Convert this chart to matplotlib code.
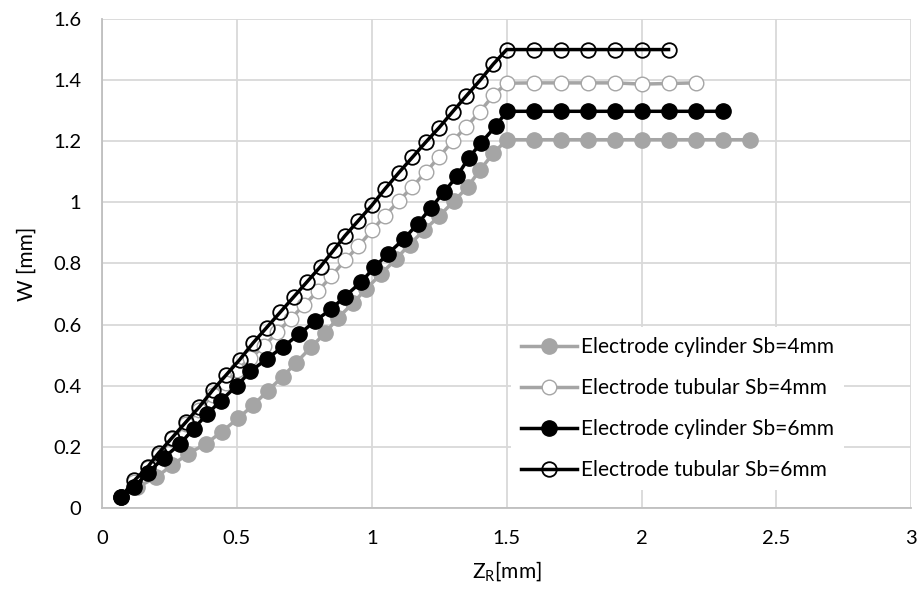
import matplotlib.pyplot as plt
from matplotlib.ticker import FuncFormatter

plt.rcParams['font.family'] = ['Lato', 'DejaVu Sans']

# Electrode cylinder, Sb = 4 mm
cyl4_x = [0.07, 0.13, 0.2, 0.26, 0.32, 0.385, 0.445, 0.505, 0.56, 0.615, 0.67, 0.72,
          0.775, 0.825, 0.875, 0.93, 0.98, 1.035, 1.09, 1.14, 1.195, 1.25, 1.305, 1.355,
          1.4, 1.45, 1.5, 1.6, 1.7, 1.8, 1.9, 2.0, 2.1, 2.2, 2.3, 2.4]
cyl4_w = [0.035, 0.068, 0.1, 0.14, 0.178, 0.21, 0.25, 0.294, 0.336, 0.384, 0.43, 0.476,
          0.526, 0.571, 0.622, 0.67, 0.718, 0.766, 0.815, 0.862, 0.91, 0.955, 1.005, 1.05,
          1.105, 1.16, 1.205, 1.205, 1.205, 1.205, 1.205, 1.205, 1.205, 1.205, 1.205, 1.205]

# Electrode tubular, Sb = 4 mm
tub4_x = [0.07, 0.12, 0.17, 0.21, 0.26, 0.31, 0.36, 0.41, 0.46, 0.5, 0.55, 0.6, 0.65,
          0.7, 0.75, 0.8, 0.85, 0.9, 0.95, 1.0, 1.05, 1.1, 1.15, 1.2, 1.25, 1.3, 1.35,
          1.4, 1.45, 1.5, 1.6, 1.7, 1.8, 1.9, 2.0, 2.1, 2.2]
tub4_w = [0.035, 0.085, 0.13, 0.175, 0.225, 0.275, 0.32, 0.37, 0.41, 0.45, 0.49, 0.53,
          0.575, 0.62, 0.665, 0.709, 0.758, 0.81, 0.856, 0.908, 0.957, 1.005, 1.05, 1.099,
          1.149, 1.201, 1.247, 1.296, 1.35, 1.39, 1.391, 1.391, 1.391, 1.391, 1.387,
          1.389, 1.391]

# Electrode cylinder, Sb = 6 mm
cyl6_x = [0.07, 0.12, 0.17, 0.23, 0.29, 0.34, 0.39, 0.44, 0.5, 0.55, 0.61, 0.67, 0.73,
          0.79, 0.85, 0.9, 0.96, 1.01, 1.06, 1.12, 1.17, 1.22, 1.267, 1.315, 1.36, 1.405,
          1.46, 1.5, 1.6, 1.7, 1.8, 1.9, 2.0, 2.1, 2.2, 2.3]
cyl6_w = [0.035, 0.07, 0.115, 0.165, 0.21, 0.26, 0.307, 0.351, 0.4, 0.447, 0.487, 0.527,
          0.568, 0.612, 0.651, 0.692, 0.739, 0.788, 0.832, 0.881, 0.93, 0.983, 1.033,
          1.085, 1.146, 1.195, 1.25, 1.298, 1.298, 1.298, 1.298, 1.298, 1.298, 1.298,
          1.298, 1.298]

# Electrode tubular, Sb = 6 mm
tub6_x = [0.07, 0.12, 0.17, 0.21, 0.26, 0.31, 0.36, 0.41, 0.46, 0.51, 0.56, 0.61, 0.66,
          0.71, 0.76, 0.81, 0.86, 0.9, 0.95, 1.0, 1.05, 1.1, 1.15, 1.2, 1.25, 1.3, 1.35,
          1.4, 1.45, 1.5, 1.6, 1.7, 1.8, 1.9, 2.0, 2.1]
tub6_w = [0.035, 0.09, 0.135, 0.18, 0.23, 0.28, 0.33, 0.385, 0.435, 0.485, 0.54, 0.59,
          0.64, 0.69, 0.74, 0.79, 0.845, 0.89, 0.94, 0.99, 1.045, 1.097, 1.147, 1.197,
          1.245, 1.297, 1.348, 1.398, 1.452, 1.5, 1.5, 1.5, 1.5, 1.5, 1.5, 1.5]

labels = ['Electrode cylinder Sb=4mm', 'Electrode tubular Sb=4mm',
          'Electrode cylinder Sb=6mm', 'Electrode tubular Sb=6mm']

gray = '#A5A5A5'
fig = plt.figure(figsize=(9.22, 5.94), dpi=100)
ax = fig.add_axes([0.1106, 0.1448, 0.8779, 0.8232])

ax.plot(cyl4_x, cyl4_w, color=gray, lw=2.5, marker='o', ms=11,
        mfc=gray, mec=gray, label=labels[0], zorder=3)
ax.plot(tub4_x, tub4_w, color=gray, lw=2.5, marker='o', ms=10.5,
        mfc='white', mec=gray, mew=1.0, label=labels[1], zorder=4)
ax.plot(cyl6_x, cyl6_w, color='black', lw=2.5, marker='o', ms=11,
        mfc='black', mec='black', label=labels[2], zorder=5)
ax.plot(tub6_x, tub6_w, color='black', lw=2.5, marker='o', ms=10.5,
        mfc='none', mec='black', mew=1.3, label=labels[3], zorder=6)

ax.set_xlim(0, 3)
ax.set_ylim(0, 1.6)
ax.set_xticks([0, 0.5, 1, 1.5, 2, 2.5, 3])
ax.set_yticks([0, 0.2, 0.4, 0.6, 0.8, 1.0, 1.2, 1.4, 1.6])
fmt = FuncFormatter(lambda v, p: '{:g}'.format(v))
ax.xaxis.set_major_formatter(fmt)
ax.yaxis.set_major_formatter(fmt)
ax.tick_params(length=0, labelsize=14.5)
ax.tick_params(axis='x', pad=16)
ax.tick_params(axis='y', pad=15)

ax.grid(True, color='#D9D9D9', lw=1.3, zorder=0)
ax.set_axisbelow(True)
for side in ['top', 'right']:
    ax.spines[side].set_visible(False)
for side in ['left', 'bottom']:
    ax.spines[side].set_color('#BFBFBF')
    ax.spines[side].set_linewidth(1.3)

ax.set_xlabel('Z$_\\mathregular{R}$[mm]', fontsize=15, labelpad=9)
ax.set_ylabel('W [mm]', fontsize=15, labelpad=12)

leg = ax.legend(loc='upper left', bbox_to_anchor=(0.505, 0.37), fontsize=15,
                frameon=True, facecolor='white', edgecolor='none', framealpha=1,
                fancybox=False, handlelength=2.7, handletextpad=0.15,
                labelspacing=1.0, numpoints=1, borderpad=0.5, borderaxespad=0)
leg.set_zorder(10)

fig.savefig('out.png', dpi=100)
